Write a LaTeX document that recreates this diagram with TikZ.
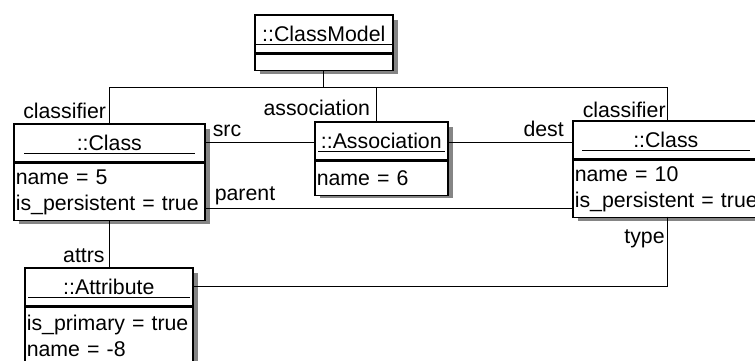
\documentclass[tikz,border=0pt]{standalone}
\usepackage{fontspec}
\setmainfont{Liberation Sans}
\usetikzlibrary{positioning,calc}
\definecolor{ShadowGray}{rgb}{0.52,0.52,0.52}

\begin{document}
\begin{tikzpicture}[x=1pt,y=-1pt,
    font=\fontsize{21.3}{26}\selectfont,
    box/.style={rectangle,draw,line width=1.6pt,fill=white,inner sep=0pt},
    ghost/.style={rectangle,fill=ShadowGray,inner sep=0pt,anchor=north west},
    head/.style={box,minimum height=38pt,anchor=north west},
    slots/.style={box,align=left,inner xsep=2pt},
    rule/.style={draw,line width=1.2pt},
    link/.style={draw,line width=0.9pt},
    tag/.style={inner sep=0pt}
]
\useasboundingbox (0,0) rectangle (755,361);

% shadows
\node[ghost,minimum width=138pt,minimum height=54pt] (cm-s) at (260,20) {};
\node[ghost,minimum width=191pt,minimum height=95pt] (lc-s) at (19,129) {};
\node[ghost,minimum width=133pt,minimum height=71pt] (as-s) at (320,127) {};
\node[ghost,minimum width=196pt,minimum height=95pt] (rc-s) at (578,126) {};
\node[ghost,minimum width=168pt,minimum height=95pt] (at-s) at (30,273) {};

% objects
\node[head,minimum width=138pt] (cm-t) at (254,14) {::ClassModel};
\node[slots,minimum width=138pt,minimum height=16pt,below=0pt of cm-t] (cm-a) {};

\node[head,minimum width=191pt] (lc-t) at (13,123) {::Class};
\node[slots,text width=187pt,minimum height=57pt,below=0pt of lc-t] (lc-a) {name = 5\\is\_persistent = true};

\node[head,minimum width=133pt] (as-t) at (314,121) {::Association};
\node[slots,text width=129pt,minimum height=34pt,below=0pt of as-t] (as-a) {name = 6};

\node[head,minimum width=186pt] (rc-t) at (572,120) {::Class};
\node[slots,text width=196pt,minimum height=57pt,below=0pt of rc-t.south west,anchor=north west] (rc-a) {name = 10\\is\_persistent = true};

\node[head,minimum width=168pt] (at-t) at (24,267) {::Attribute};
\node[slots,text width=164pt,minimum height=57pt,below=0pt of at-t] (at-a) {is\_primary = true\\name = -8};

% underlined names
\foreach \obj/\ins in {cm/2,lc/11,as/4,rc/10,at/4}
  \draw[rule] ($(\obj-t.south west)+(\ins,-9)$) -- ($(\obj-t.south east)+(-\ins,-9)$);

% connectors
\coordinate (bus) at ($(cm-a.south)+(0,16)$);
\draw[link] (cm-a.south) -- (bus);
\draw[link] (lc-t.north) |- (bus) -| ($(rc-t.north)+(2,0)$);
\draw[link] ($(as-t.north)+(-5,0)$) |- (bus);
\draw[link] (lc-t.east) -- (lc-t.east -| as-t.west);
\draw[link] (as-t.east |- lc-t.east) -- (rc-t.west |- lc-t.east);
\coordinate (par) at ($(lc-a.east)+(0,16.5)$);
\draw[link] (par) -- (par -| rc-a.west);
\draw[link] (lc-a.south) -- (lc-a.south |- at-t.north);
\draw[link] ($(rc-t.south)+(2,57)$) |- (at-t.east);

% role names
\node[tag,anchor=base east] (r-cls1) at ($(lc-t.north)+(-3,-5)$) {classifier};
\node[tag,anchor=base east] (r-asc) at ($(as-t.north)+(-11,-6)$) {association};
\node[tag,anchor=base east] (r-cls2) at ($(rc-t.north)+(0,-3)$) {classifier};
\node[tag,anchor=base west] (r-src) at ($(lc-t.east)+(7,-6.5)$) {src};
\node[tag,anchor=base east] (r-dst) at ($(rc-t.west |- lc-t.east)+(-8,-6)$) {dest};
\node[tag,anchor=base west] (r-par) at ($(par)+(9,-8)$) {parent};
\node[tag,anchor=base east] (r-att) at ($(at-t.north)+(-4,-5)$) {attrs};
\node[tag,anchor=base east] (r-typ) at ($(rc-t.south)+(-1,84)$) {type};
\end{tikzpicture}
\end{document}
